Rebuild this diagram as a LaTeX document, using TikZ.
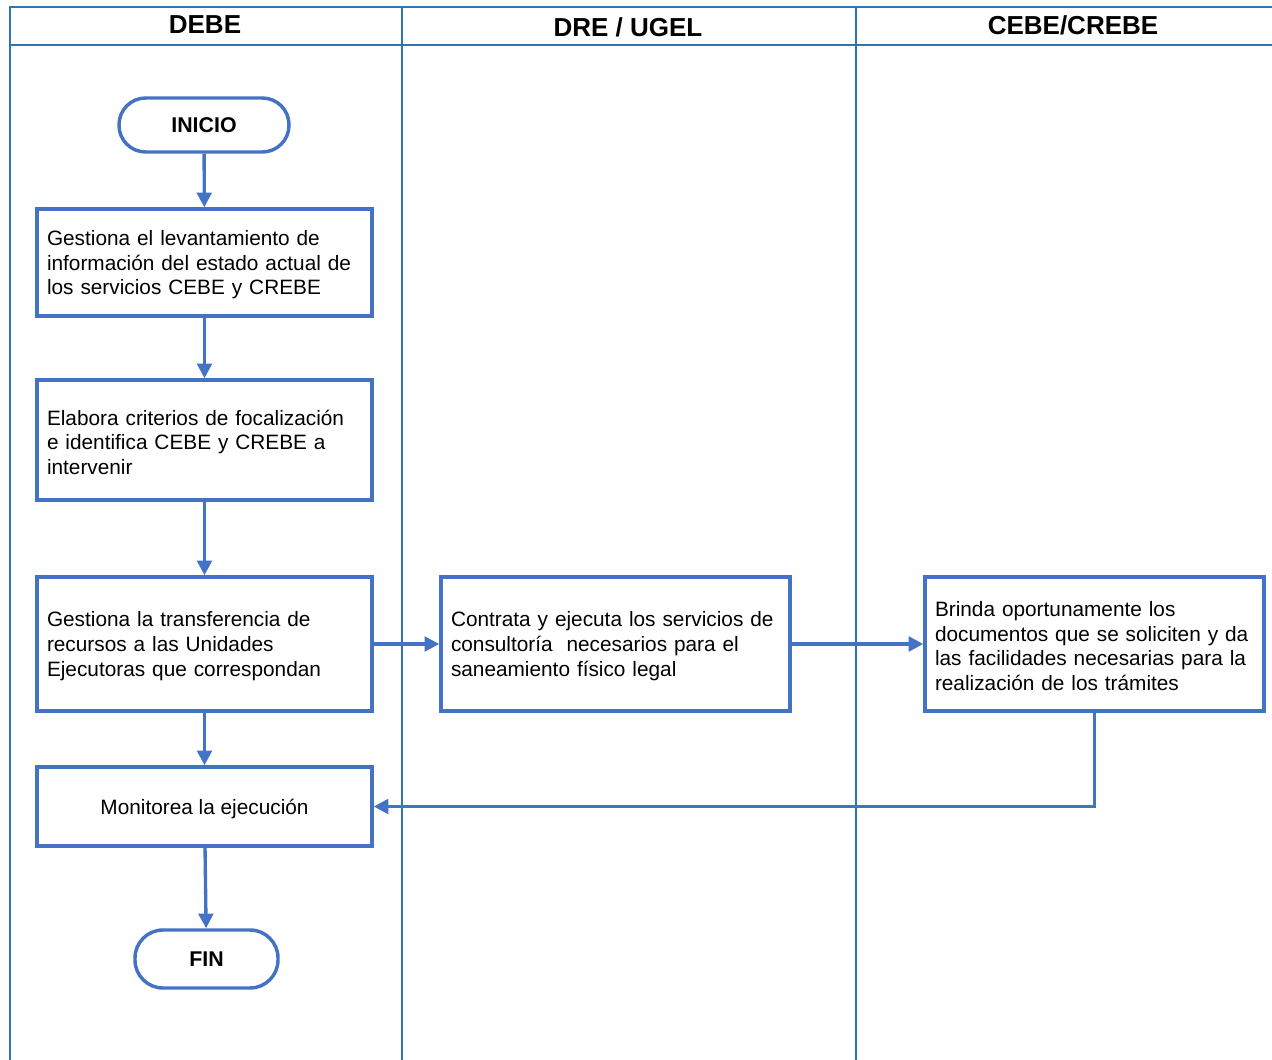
\documentclass[tikz,border=0pt]{standalone}
\usepackage{fontspec}
\setmainfont{Liberation Sans}
\usetikzlibrary{arrows.meta}
\definecolor{shapeblue}{HTML}{4472C4}
\definecolor{laneblue}{HTML}{2E75B6}
\tikzset{
	lane/.style={draw=laneblue, line width=1.3pt},
	lanetitle/.style={font=\bfseries\fontsize{19.5}{22}\selectfont},
	terminal/.style={draw=shapeblue, line width=2.6pt, font=\bfseries\fontsize{16}{18.4}\selectfont},
	process/.style={draw=shapeblue, line width=2.6pt, inner sep=7.5pt, align=left, font=\fontsize{15.6}{18.4}\selectfont, execute at begin node={\rule{0pt}{14.5pt}}},
	flow/.style={draw=shapeblue, line width=2.5pt, -{Triangle[length=11pt,width=11pt]}}
}
\begin{document}
\begin{tikzpicture}[x=0.75pt, y=-0.75pt]
	\useasboundingbox (0,0) rectangle (1272,1060);
	\clip (0,0) rectangle (1272,1060);
	% Draw the lanes
	\draw[lane] (10,1060) -- (10,7) -- (1272,7);
	\draw[lane] (10,45) -- (1272,45);
	\draw[lane] (402,7) -- (402,1060);
	\draw[lane] (856,7) -- (856,1060);
	\node[lanetitle] (debe) at (205,25) {DEBE};
	\node[lanetitle] (dre) at (628,27) {DRE / UGEL};
	\node[lanetitle] (cebe) at (1073,25) {CEBE/CREBE};
	% Define the steps
	\node[terminal, minimum width=127.5pt, minimum height=40.5pt, rounded corners=20pt] (inicio) at (204,125) {INICIO};
	\node[process, minimum width=251.25pt, minimum height=80.25pt, text width=236.25pt] (gestiona) at (204.5,262.5) {Gestiona el levantamiento de\\información del estado actual de\\los servicios CEBE y CREBE};
	\node[process, minimum width=251.25pt, minimum height=90pt, text width=236.25pt] (elabora) at (204.5,440) {Elabora criterios de focalización\\e identifica CEBE y CREBE a\\intervenir};
	\node[process, minimum width=251.25pt, minimum height=100.5pt, text width=236.25pt] (transfiere) at (204.5,644) {Gestiona la transferencia de\\recursos a las Unidades\\Ejecutoras que correspondan};
	\node[process, minimum width=261.75pt, minimum height=100.5pt, text width=246.75pt] (contrata) at (615.5,644) {Contrata y ejecuta los servicios de\\consultoría\ \ necesarios para el\\saneamiento físico legal};
	\node[process, minimum width=254.25pt, minimum height=100.5pt, text width=239.25pt] (brinda) at (1094.5,644) {Brinda oportunamente los\\documentos que se soliciten y da\\las facilidades necesarias para la\\realización de los trámites};
	\node[process, align=center, minimum width=251.25pt, minimum height=59.25pt] (monitorea) at (204.5,806.5) {Monitorea la ejecución};
	\node[terminal, minimum width=107.25pt, minimum height=43.5pt, rounded corners=21pt] (fin) at (206.5,959) {FIN};
	% Draw the flow
	\draw[flow] (inicio) -- (gestiona);
	\draw[flow] (gestiona) -- (elabora);
	\draw[flow] (elabora) -- (transfiere);
	\draw[flow] (transfiere) -- (monitorea);
	\draw[flow] (monitorea) -- (fin);
	\draw[flow] (transfiere) -- (contrata);
	\draw[flow] (contrata) -- (brinda);
	\draw[flow] (brinda.south) |- (monitorea.east);
\end{tikzpicture}
\end{document}
